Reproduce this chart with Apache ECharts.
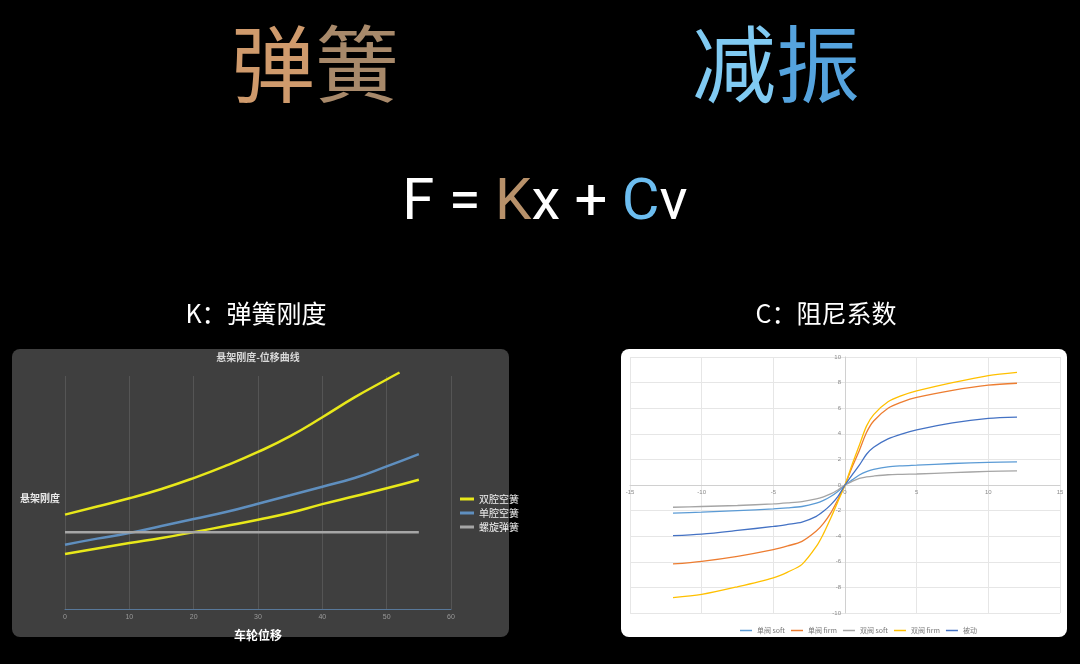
<!DOCTYPE html>
<html>
<head>
<meta charset="utf-8">
<script src="https://cdn.jsdelivr.net/npm/echarts@6/dist/echarts.min.js"></script>
<style>
html,body{margin:0;padding:0;background:#000;}
#c{width:1080px;height:664px;}
</style>
</head>
<body>
<div id="c"></div>
<script>
// ---- Left chart: 悬架刚度-位移曲线 ----
const springX = [0, 5, 10, 15, 20, 25, 30, 35, 40, 45, 50, 52, 55];
const dualUpper = [40.5, 44, 47.5, 51.5, 56.2, 61.5, 67.4, 74.2, 82.3, 90.8, 98.5, 101.5, null];
const dualLower = [23.6, 26, 28.3, 30.5, 33, 35.6, 38.3, 41.3, 45, 48.4, 51.8, null, 55.5];
const singleAir = [27.6, 30.2, 32.6, 35.6, 38.6, 41.6, 45.2, 48.8, 52.5, 56.2, 61.2, null, 66.5];
const coilSpring = [32.9, 32.9, 32.9, 32.9, 32.9, 32.9, 32.9, 32.9, 32.9, 32.9, 32.9, null, 32.9];
const springNames = ['双腔空簧', '单腔空簧', '螺旋弹簧'];

// ---- Right chart: damping curves ----
const velX = [-12, -10, -7.5, -5, -4, -3, -2, -1.5, -1, -0.5, 0, 0.5, 1, 1.5, 2, 3, 4, 5, 7.5, 10, 12];
const singleSoft = [-2.2, -2.12, -2.0, -1.87, -1.79, -1.68, -1.42, -1.2, -0.9, -0.5, 0, 0.4, 0.78, 1.05, 1.22, 1.42, 1.5, 1.55, 1.68, 1.76, 1.81];
const singleFirm = [-6.17, -5.96, -5.57, -5.05, -4.76, -4.4, -3.6, -3.0, -2.2, -1.15, 0, 1.4, 2.7, 4.1, 5.0, 6.0, 6.5, 6.85, 7.4, 7.8, 7.95];
const dualSoft = [-1.74, -1.68, -1.6, -1.48, -1.4, -1.3, -1.09, -0.92, -0.7, -0.39, 0, 0.28, 0.52, 0.63, 0.7, 0.8, 0.83, 0.86, 0.97, 1.06, 1.11];
const dualFirm = [-8.8, -8.55, -7.95, -7.25, -6.8, -6.2, -4.8, -3.8, -2.6, -1.3, 0, 1.6, 3.1, 4.6, 5.5, 6.5, 7.0, 7.35, 8.0, 8.55, 8.8];
const passive = [-3.96, -3.83, -3.55, -3.24, -3.08, -2.9, -2.45, -2.05, -1.55, -0.9, 0, 0.8, 1.55, 2.4, 2.95, 3.6, 4.0, 4.3, 4.85, 5.2, 5.3];
const dampNames = ['单阀 soft', '单阀 firm', '双阀 soft', '双阀 firm', '被动'];

function pairs(xs, ys) {
  const out = [];
  xs.forEach((x, i) => { if (ys[i] !== null && ys[i] !== undefined) out.push([x, ys[i]]); });
  return out;
}

const chart = echarts.init(document.getElementById('c'));
const CJK = '"Noto Sans CJK SC", "Noto Sans", sans-serif';

const option = {
  backgroundColor: '#000',
  animation: false,
  graphic: [
    {type: 'rect', z: -100, shape: {x: 12, y: 349, width: 497, height: 288, r: 8}, style: {fill: '#3f3f3f'}},
    {type: 'rect', z: -100, shape: {x: 621, y: 349, width: 446, height: 288, r: 8}, style: {fill: '#ffffff'}},
    {type: 'text', x: 315, y: 64, style: {
      text: '{a|弹}{b|簧}', align: 'center', verticalAlign: 'middle',
      rich: {
        a: {fontSize: 84, fontFamily: CJK, fill: '#cf9a6c'},
        b: {fontSize: 84, fontFamily: CJK, fill: '#a8896a'}
      }}},
    {type: 'text', x: 776, y: 64, style: {
      text: '{a|减}{b|振}', align: 'center', verticalAlign: 'middle',
      rich: {
        a: {fontSize: 84, fontFamily: CJK, fill: '#80caf2'},
        b: {fontSize: 84, fontFamily: CJK, fill: '#55a3de'}
      }}},
    {type: 'text', x: 545, y: 204, style: {
      text: '{w|F = }{k|K}{w|x + }{c|C}{w|v}', align: 'center', verticalAlign: 'middle',
      rich: {
        w: {fontSize: 58, fontFamily: 'Roboto', fill: '#ffffff'},
        k: {fontSize: 58, fontFamily: 'Roboto', fill: '#b8916a'},
        c: {fontSize: 58, fontFamily: 'Roboto', fill: '#6cbdf0'}
      }}},
    {type: 'text', x: 256, y: 313, style: {text: 'K：弹簧刚度', font: '25px ' + CJK, fill: '#ffffff', align: 'center', verticalAlign: 'middle'}},
    {type: 'text', x: 826, y: 313, style: {text: 'C：阻尼系数', font: '25px ' + CJK, fill: '#ffffff', align: 'center', verticalAlign: 'middle'}},
    {type: 'text', x: 258, y: 357, style: {text: '悬架刚度-位移曲线', font: 'bold 10px ' + CJK, fill: '#d8d8d8', align: 'center', verticalAlign: 'middle'}},
    {type: 'text', x: 20, y: 498, style: {text: '悬架刚度', font: 'bold 10px ' + CJK, fill: '#e8e8e8', align: 'left', verticalAlign: 'middle'}}
  ],
  legend: [
    {
      data: springNames, orient: 'vertical', left: 455, top: 489, itemGap: 4,
      itemWidth: 14, itemHeight: 3, icon: 'rect',
      textStyle: {color: '#f0f0f0', fontSize: 10, fontFamily: CJK}
    },
    {
      data: dampNames, orient: 'horizontal', left: 735, top: 622, itemGap: 6,
      itemWidth: 12, itemHeight: 1.5, icon: 'rect',
      textStyle: {color: '#777', fontSize: 7, fontFamily: CJK}
    }
  ],
  grid: [
    {left: 65, right: 629, top: 376, bottom: 55},
    {left: 630, right: 20, top: 357, bottom: 51}
  ],
  xAxis: [
    {
      gridIndex: 0, type: 'value', min: 0, max: 60, interval: 10,
      name: '车轮位移', nameLocation: 'middle', nameGap: 20,
      nameTextStyle: {color: '#ffffff', fontSize: 12, fontWeight: 'bold', fontFamily: CJK},
      axisLine: {show: true, lineStyle: {color: '#58789a', width: 1}},
      axisTick: {show: false},
      axisLabel: {color: '#9a9a9a', fontSize: 7, margin: 5},
      splitLine: {show: true, lineStyle: {color: '#555555', width: 1}}
    },
    {
      gridIndex: 1, type: 'value', min: -15, max: 15, interval: 5,
      position: 'bottom', offset: -128,
      axisLine: {show: true, onZero: false, lineStyle: {color: '#d0d0d0'}},
      axisTick: {show: false},
      axisLabel: {color: '#8a8a8a', fontSize: 6, margin: 4},
      splitLine: {show: true, lineStyle: {color: '#e6e6e6'}}
    }
  ],
  yAxis: [
    {
      gridIndex: 0, type: 'value', min: 0, max: 100,
      axisLine: {show: false}, axisTick: {show: false}, axisLabel: {show: false},
      splitLine: {show: false}
    },
    {
      gridIndex: 1, type: 'value', min: -10, max: 10, interval: 2,
      position: 'left', offset: -215,
      axisLine: {show: true, onZero: false, lineStyle: {color: '#d0d0d0'}},
      axisTick: {show: false},
      axisLabel: {color: '#8a8a8a', fontSize: 6, margin: 4},
      splitLine: {show: true, lineStyle: {color: '#e6e6e6'}}
    }
  ],
  series: [
    {name: '双腔空簧', type: 'line', xAxisIndex: 0, yAxisIndex: 0, data: pairs(springX, dualUpper), smooth: true, showSymbol: false, clip: false, color: '#e8e81a', lineStyle: {width: 2.5}},
    {name: '双腔空簧', type: 'line', xAxisIndex: 0, yAxisIndex: 0, data: pairs(springX, dualLower), smooth: true, showSymbol: false, clip: false, color: '#e8e81a', lineStyle: {width: 2.5}},
    {name: '单腔空簧', type: 'line', xAxisIndex: 0, yAxisIndex: 0, data: pairs(springX, singleAir), smooth: true, showSymbol: false, color: '#5f8fbf', lineStyle: {width: 2.5}},
    {name: '螺旋弹簧', type: 'line', xAxisIndex: 0, yAxisIndex: 0, data: pairs(springX, coilSpring), smooth: true, showSymbol: false, color: '#a6a6a6', lineStyle: {width: 2.5}},

    {name: '单阀 soft', type: 'line', xAxisIndex: 1, yAxisIndex: 1, data: pairs(velX, singleSoft), smooth: 0.3, showSymbol: false, color: '#5b9bd5', lineStyle: {width: 1.3}},
    {name: '单阀 firm', type: 'line', xAxisIndex: 1, yAxisIndex: 1, data: pairs(velX, singleFirm), smooth: 0.3, showSymbol: false, color: '#ed7d31', lineStyle: {width: 1.3}},
    {name: '双阀 soft', type: 'line', xAxisIndex: 1, yAxisIndex: 1, data: pairs(velX, dualSoft), smooth: 0.3, showSymbol: false, color: '#a5a5a5', lineStyle: {width: 1.3}},
    {name: '双阀 firm', type: 'line', xAxisIndex: 1, yAxisIndex: 1, data: pairs(velX, dualFirm), smooth: 0.3, showSymbol: false, color: '#ffc000', lineStyle: {width: 1.3}},
    {name: '被动', type: 'line', xAxisIndex: 1, yAxisIndex: 1, data: pairs(velX, passive), smooth: 0.3, showSymbol: false, color: '#4472c4', lineStyle: {width: 1.3}}
  ]
};
chart.setOption(option);
</script>
</body>
</html>
